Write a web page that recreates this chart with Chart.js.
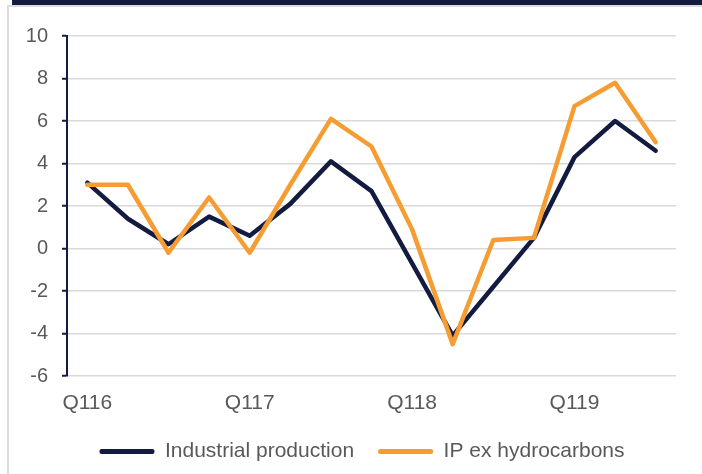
<!DOCTYPE html>
<html lang="en">
  <head>
    <meta charset="UTF-8">
    <title>Industrial production</title>
    <script src="https://cdn.jsdelivr.net/npm/chart.js"></script>
    <style>
      body {
        margin: 0;
        padding: 0;
        background-color: #ffffff;
        font-family: Arial, "Liberation Sans", sans-serif;
      }

      .frame {
        position: relative;
        width: 702px;
        height: 474px;
        overflow: hidden;
      }

      .top-bar {
        position: absolute;
        left: 12px;
        top: 0;
        width: 690px;
        height: 5px;
        background-color: #131c40;
      }

      .top-line {
        position: absolute;
        left: 7px;
        top: 5px;
        width: 695px;
        height: 2px;
        background-color: #dcdcdc;
      }

      .left-line {
        position: absolute;
        left: 7px;
        top: 5px;
        width: 2px;
        height: 469px;
        background-color: #dcdcdc;
      }

      /* wider than the window so the legend centres like the original frame */
      .chart-container {
        position: absolute;
        left: 0;
        top: 0;
        width: 724px;
        height: 474px;
      }
    </style>
  </head>

  <body>
    <div class="frame">
      <div class="top-bar"></div>
      <div class="top-line"></div>
      <div class="left-line"></div>
      <div class="chart-container">
        <canvas id="ipChart"></canvas>
      </div>
    </div>

    <script>
      // Quarters Q1 2016 .. Q3 2019
      const quarters = ['Q116', 'Q216', 'Q316', 'Q416',
                        'Q117', 'Q217', 'Q317', 'Q417',
                        'Q118', 'Q218', 'Q318', 'Q418',
                        'Q119', 'Q219', 'Q319'];

      const industrialProduction = [3.1, 1.4, 0.2, 1.5, 0.6, 2.1, 4.1, 2.7,
                                    -0.7, -4.1, -1.8, 0.5, 4.3, 6.0, 4.6];

      const ipExHydrocarbons = [3.0, 3.0, -0.2, 2.4, -0.2, 3.0, 6.1, 4.8,
                                0.9, -4.5, 0.4, 0.5, 6.7, 7.8, 5.0];

      const yTicks = [-6, -4, -2, 0, 2, 4, 6, 8, 10];

      const navy = '#131c40';
      const orange = '#f59d33';
      const textGray = '#595959';
      const fontFamily = 'Arial, "Liberation Sans", sans-serif';

      const ctx = document.getElementById('ipChart').getContext('2d');
      new Chart(ctx, {
        type: 'line',
        data: {
          labels: quarters,
          datasets: [
            {
              label: 'Industrial production',
              data: industrialProduction,
              borderColor: navy,
              backgroundColor: navy,
              borderWidth: 4.5,
              pointRadius: 0,
              borderJoinStyle: 'round',
              borderCapStyle: 'round',
              order: 1,
            },
            {
              label: 'IP ex hydrocarbons',
              data: ipExHydrocarbons,
              borderColor: orange,
              backgroundColor: orange,
              borderWidth: 4.5,
              pointRadius: 0,
              borderJoinStyle: 'round',
              borderCapStyle: 'round',
              order: 0, // drawn on top
            },
          ],
        },
        options: {
          responsive: true,
          maintainAspectRatio: false,
          animation: false,
          layout: {
            padding: { left: 0, right: 0, top: 36, bottom: 2 },
          },
          plugins: {
            legend: {
              position: 'bottom',
              labels: {
                color: textGray,
                font: { family: fontFamily, size: 21 },
                boxWidth: 55,
                boxHeight: 5,
                padding: 24,
                sort: (a, b) => a.datasetIndex - b.datasetIndex,
                generateLabels: (chart) => chart.data.datasets.map((ds, i) => ({
                  text: ds.label,
                  fillStyle: ds.borderColor,
                  strokeStyle: ds.borderColor,
                  lineWidth: 0,
                  borderRadius: 2,
                  fontColor: textGray,
                  datasetIndex: i,
                })),
              },
            },
            tooltip: { enabled: false },
          },
          scales: {
            x: {
              offset: true,
              afterFit: (scale) => { scale.height = 41; },
              grid: { display: false, drawTicks: false },
              border: { display: false },
              ticks: {
                color: textGray,
                font: { family: fontFamily, size: 21 },
                autoSkip: false,
                maxRotation: 0,
                padding: 15,
                callback: (value, index) => (index % 4 === 0 ? quarters[index] : ''),
              },
            },
            y: {
              min: -6,
              max: 10,
              afterFit: (scale) => { scale.width = 67; },
              afterBuildTicks: (scale) => {
                scale.ticks = yTicks.map(v => ({ value: v }));
              },
              grid: {
                color: '#d9d9d9',
                lineWidth: 1.5,
                tickColor: navy,
                tickLength: 5,
                tickWidth: 2,
              },
              border: { display: true, color: navy, width: 2 },
              ticks: {
                color: textGray,
                font: { family: fontFamily, size: 20 },
                padding: 14,
              },
            },
            // empty right-hand margin so the plot ends where the original does
            spacer: {
              type: 'linear',
              position: 'right',
              afterFit: (scale) => { scale.width = 48; },
              grid: { display: false, drawTicks: false },
              border: { display: false },
              ticks: { display: false },
            },
          },
        },
      });
    </script>
  </body>
</html>
